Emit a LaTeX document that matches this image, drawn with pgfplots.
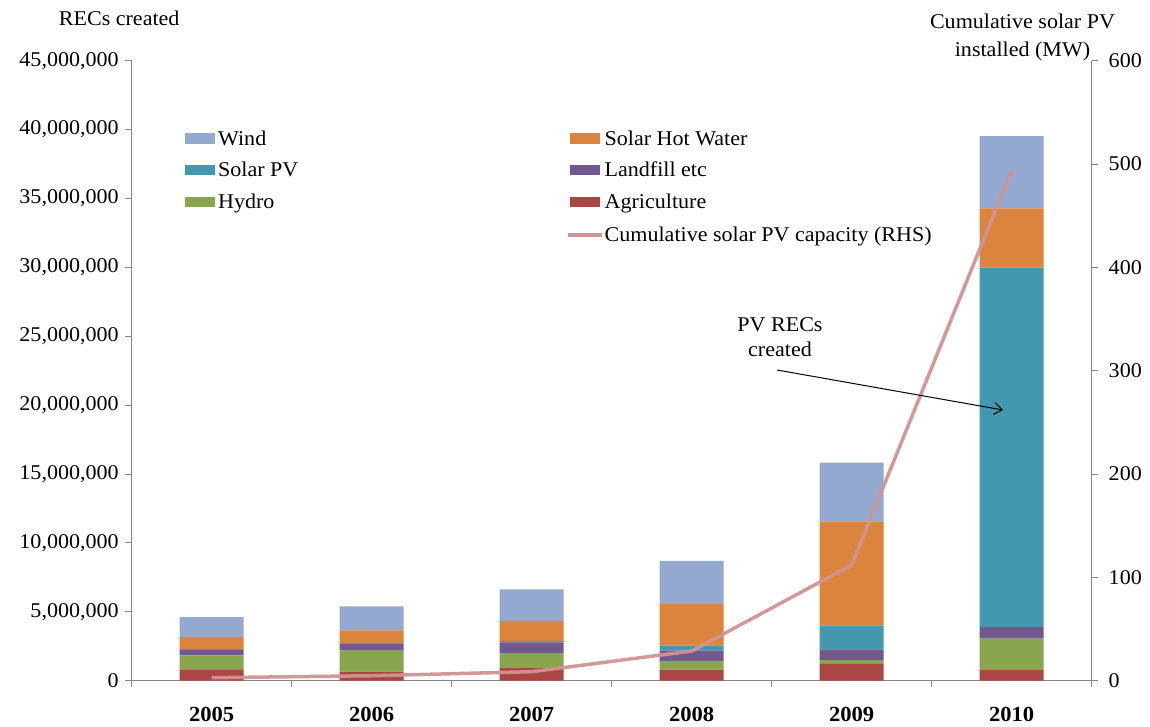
\documentclass[border=0pt]{standalone}
\usepackage{fontspec}
\setmainfont{Liberation Serif}[FakeStretch=1.05]
\usepackage{pgfplots}
\pgfplotsset{compat=1.18}
\usetikzlibrary{arrows.meta}
\definecolor{wind}{HTML}{93A9CF}
\definecolor{shw}{HTML}{DB843D}
\definecolor{spv}{HTML}{4198AF}
\definecolor{landf}{HTML}{71588F}
\definecolor{hydro}{HTML}{89A54E}
\definecolor{agri}{HTML}{AA4643}
\definecolor{linec}{HTML}{D19392}
\definecolor{axisgray}{HTML}{868686}
\newcommand{\tf}{\fontsize{21bp}{25bp}\selectfont}
\begin{document}
\begin{tikzpicture}
\path[use as bounding box] (-131.7bp,-46.3bp) rectangle (1018.3bp,680.7bp);
\begin{axis}[
  at={(0,0)}, anchor=south west,
  scale only axis, width=960bp, height=620bp,
  xmin=-0.5, xmax=5.5, ymin=0, ymax=45000000,
  ybar stacked, bar width=0.4,
  axis y line*=left, axis x line*=bottom,
  axis line style={draw=axisgray, line width=1bp},
  tick align=outside, major tick length=6.5bp,
  tick style={draw=axisgray, line width=1bp},
  xtick={-0.5,0.5,1.5,2.5,3.5,4.5,5.5}, xticklabels={},
  extra x ticks={0,1,2,3,4,5},
  extra x tick labels={2005,2006,2007,2008,2009,2010},
  extra x tick style={tick style={draw=none}},
  xticklabel style={font=\fontsize{21.5bp}{25bp}\selectfont\bfseries, yshift=-16bp},
  ytick={0,5000000,10000000,15000000,20000000,25000000,30000000,35000000,40000000,45000000},
  scaled y ticks=false,
  yticklabel style={font=\tf, /pgf/number format/fixed, /pgf/number format/precision=0, /pgf/number format/1000 sep={,}, /pgf/number format/assume math mode=true, xshift=-3bp},
  legend columns=2,
  legend cell align=left,
  legend style={draw=none, fill=none, at={(0.0503,0.891)}, anchor=north west, font=\tf, column sep=1bp, row sep=15.5bp, nodes={inner sep=0pt}},
]
\addplot+[fill=agri, draw=none, forget plot] coordinates {(0,830000) (1,650000) (2,920000) (3,800000) (4,1230000) (5,760000)};
\addplot+[fill=hydro, draw=none, forget plot] coordinates {(0,1010000) (1,1530000) (2,1090000) (3,630000) (4,270000) (5,2290000)};
\addplot+[fill=landf, draw=none, forget plot] coordinates {(0,440000) (1,530000) (2,780000) (3,750000) (4,780000) (5,850000)};
\addplot+[fill=spv, draw=none, forget plot] coordinates {(0,20000) (1,30000) (2,90000) (3,360000) (4,1740000) (5,26080000)};
\addplot+[fill=shw, draw=none, forget plot] coordinates {(0,870000) (1,910000) (2,1470000) (3,3030000) (4,7550000) (5,4300000)};
\addplot+[fill=wind, draw=none, forget plot] coordinates {(0,1450000) (1,1740000) (2,2280000) (3,3120000) (4,4250000) (5,5250000)};
\addlegendimage{legend image code/.code={\path[draw=none] (0,0) -- (34bp,0); \fill[wind, draw=none] (2bp,-5bp) rectangle (32bp,5bp);}}
\addlegendentry{\makebox[347bp][l]{Wind}}
\addlegendimage{legend image code/.code={\path[draw=none] (0,0) -- (34bp,0); \fill[shw, draw=none] (2bp,-5bp) rectangle (32bp,5bp);}}
\addlegendentry{Solar Hot Water}
\addlegendimage{legend image code/.code={\path[draw=none] (0,0) -- (34bp,0); \fill[spv, draw=none] (2bp,-5bp) rectangle (32bp,5bp);}}
\addlegendentry{\makebox[347bp][l]{Solar PV}}
\addlegendimage{legend image code/.code={\path[draw=none] (0,0) -- (34bp,0); \fill[landf, draw=none] (2bp,-5bp) rectangle (32bp,5bp);}}
\addlegendentry{Landfill etc}
\addlegendimage{legend image code/.code={\path[draw=none] (0,0) -- (34bp,0); \fill[hydro, draw=none] (2bp,-5bp) rectangle (32bp,5bp);}}
\addlegendentry{\makebox[347bp][l]{Hydro}}
\addlegendimage{legend image code/.code={\path[draw=none] (0,0) -- (34bp,0); \fill[agri, draw=none] (2bp,-5bp) rectangle (32bp,5bp);}}
\addlegendentry{Agriculture}
\addlegendimage{legend image code/.code={\path[draw=none] (0,0) -- (34bp,0);}}
\addlegendentry{\makebox[347bp][l]{\strut}}
\addlegendimage{legend image code/.code={\draw[linec, line width=3.5bp] (0bp,0) -- (34bp,0);}}
\addlegendentry{Cumulative solar PV capacity (RHS)}
\end{axis}
\begin{axis}[
  at={(0,0)}, anchor=south west,
  scale only axis, width=960bp, height=620bp,
  xmin=-0.5, xmax=5.5, ymin=0, ymax=600,
  axis y line*=right, axis x line=none,
  axis line style={draw=axisgray, line width=1bp},
  tick align=outside, major tick length=6.5bp,
  tick style={draw=axisgray, line width=1bp},
  ytick={0,100,200,300,400,500,600},
  yticklabel style={font=\tf, /pgf/number format/assume math mode=true, xshift=7bp},
]
\addplot[linec, line width=3.5bp, line join=round, opacity=0.95] coordinates {(0,2.9) (1,4.8) (2,8.7) (3,28.7) (4,112) (5,494)};
\end{axis}
\node[font=\fontsize{21bp}{25bp}\selectfont] at (-12.5bp,662.4bp) {RECs created};
\node[font=\fontsize{21bp}{28bp}\selectfont, align=center] at (890.8bp,643bp) {Cumulative solar PV\\installed (MW)};
\node[font=\fontsize{21bp}{25bp}\selectfont, align=center] at (648.3bp,343.2bp) {PV RECs\\created};
\draw[-{Straight Barb[length=8bp,width=12bp]}, line width=1bp] (645.3bp,310.7bp) -- (871.3bp,270.7bp);
\end{tikzpicture}
\end{document}
